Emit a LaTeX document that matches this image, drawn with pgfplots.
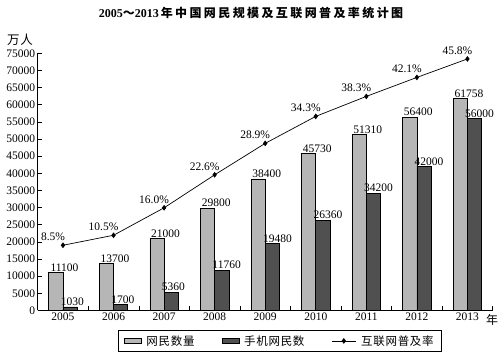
\documentclass[border=0pt]{standalone}
\usepackage{fontspec}
\setmainfont{Liberation Serif}
\newfontfamily\cjk[LetterSpace=6]{Noto Sans CJK SC}
\newfontfamily\cjkt[LetterSpace=20]{Noto Sans CJK SC}
\usepackage{pgfplots}
\usepackage{pgfplotstable}
\pgfplotsset{compat=1.18}
\definecolor{lightbar}{RGB}{182,182,182}
\definecolor{darkbar}{RGB}{80,80,80}
\pgfplotsset{longline legend/.style={legend image code/.code={\draw[mark repeat=2,mark phase=2,##1] plot coordinates {(0pt,0pt)(12pt,0pt)(24pt,0pt)};}}}

\pgfplotstableread{
x net mobile
0 11100 1030
1 13700 1700
2 21000 5360
3 29800 11760
4 38400 19480
5 45730 26360
6 51310 34200
7 56400 42000
8 61758 56000
}\bardata

\pgfplotstableread{
x rate label
0 8.5 8.5
1 10.5 10.5
2 16.0 16.0
3 22.6 22.6
4 28.9 28.9
5 34.3 34.3
6 38.3 38.3
7 42.1 42.1
8 45.8 45.8
}\ratedata

\begin{document}
\begin{tikzpicture}[font=\fontsize{11.5}{13}\selectfont]
\begin{axis}[
  scale only axis, width=455pt, height=257.2pt,
  xmin=-0.5, xmax=8.5, ymin=0, ymax=75000,
  clip=false,
  axis x line*=bottom, axis y line*=left,
  axis line style={line width=0.6pt},
  ytick={0,5000,...,75000},
  xtick={0,...,8},
  xticklabels={2005,2006,2007,2008,2009,2010,2011,2012,2013},
  major x tick style={draw=none},
  minor xtick={-0.5,0.5,...,8.5},
  tick align=inside, major tick length=4pt, minor tick length=4pt,
  tick style={black, line width=0.6pt},
  scaled y ticks=false,
  /pgf/number format/1000 sep={},
  /pgf/number format/assume math mode=true,
  xticklabel style={yshift=1.5pt},
  yticklabel style={xshift=1pt},
  legend columns=3,
  legend style={at={(0.1765,-0.0758)}, anchor=north west, draw=black, line width=0.6pt,
    inner xsep=5.5pt, inner ysep=3pt,
    /tikz/every odd column/.append style={column sep=3pt},
    /tikz/every even column/.append style={column sep=25pt}},
]
\addplot[ybar, bar width=14.2pt, bar shift=-7.1pt, fill=lightbar, draw=black, line width=0.6pt,
  area legend,
  nodes near coords, nodes near coords align={center},
  every node near coord/.append style={anchor=south, inner sep=1pt, xshift=1.5pt, black}]
  table[x=x, y=net]{\bardata};
\addlegendentry{\cjk 网民数量}
\addplot[ybar, bar width=14.2pt, bar shift=7.1pt, fill=darkbar, draw=black, line width=0.6pt,
  area legend,
  nodes near coords, nodes near coords align={center},
  every node near coord/.append style={anchor=south west, inner sep=1pt, xshift=-3.5pt, black}]
  table[x=x, y=mobile]{\bardata};
\addlegendentry{\cjk 手机网民数}
\addlegendimage{black, line width=0.7pt, mark=diamond*, mark size=2.3pt, longline legend}
\addlegendentry{\cjk 互联网普及率}
\end{axis}
\begin{axis}[
  scale only axis, width=455pt, height=257.2pt,
  xmin=-0.5, xmax=8.5, ymin=-4.56, ymax=46.93,
  clip=false, hide axis,
]
\addplot[black, line width=0.7pt, mark=diamond*, mark size=2.3pt,
  point meta=explicit symbolic,
  nodes near coords={\pgfplotspointmeta\%},
  nodes near coords style={anchor=south, inner sep=1pt, xshift=-10pt, yshift=3pt, black}]
  table[x=x, y=rate, meta=label]{\ratedata};
\end{axis}
\node[font=\bfseries\fontsize{12}{14}\selectfont] at (213.3pt,297.5pt)
  {2005{\cjkt ～}2013\,{\cjkt 年中国网民规模及互联网普及率统计图}};
\node[font=\cjk\fontsize{12.5}{14}\selectfont] at (-17.7pt,270.5pt) {万人};
\node[font=\cjk\fontsize{12}{14}\selectfont] at (454.3pt,-9.5pt) {年};
\pgfresetboundingbox
\useasboundingbox (-37.7pt,-41.5pt) rectangle (464.3pt,310.5pt);
\end{tikzpicture}
\end{document}
